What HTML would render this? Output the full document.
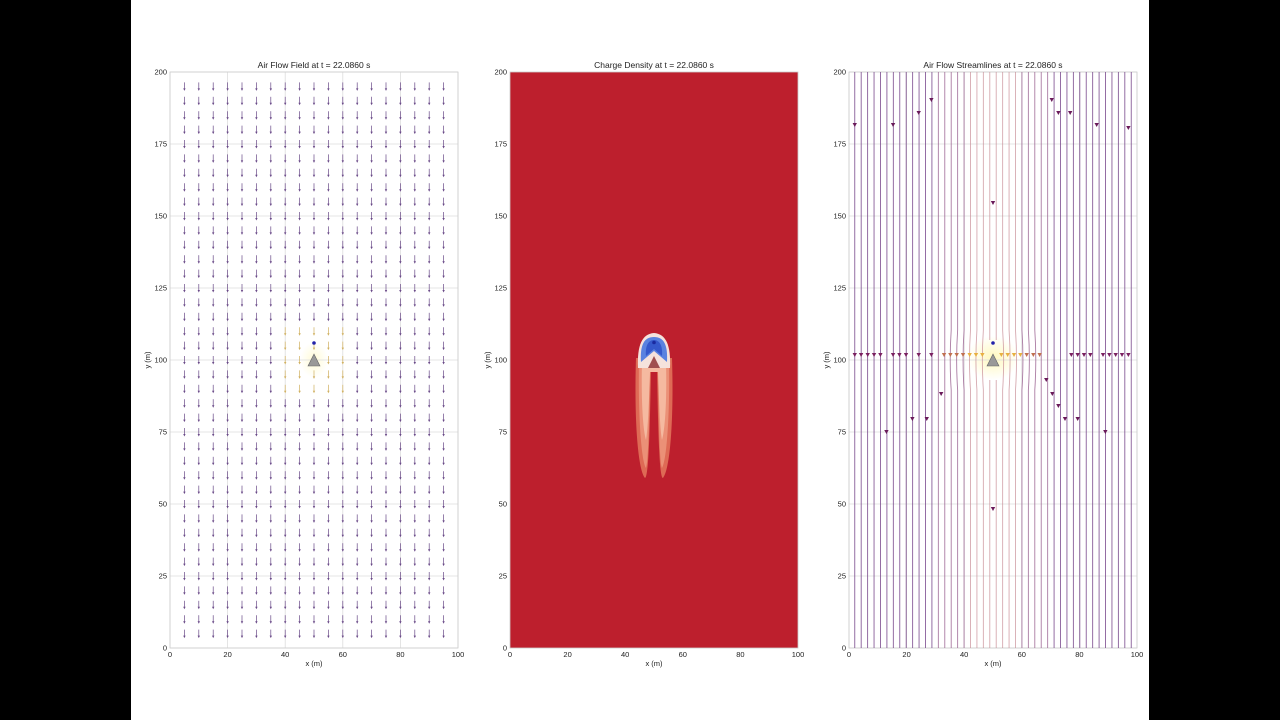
<!DOCTYPE html>
<html><head><meta charset="utf-8">
<style>
html,body{margin:0;padding:0;background:#000;width:1280px;height:720px;overflow:hidden}
svg{display:block}
text{font-family:"Liberation Sans",sans-serif;fill:#222}
</style></head>
<body>
<svg id="s" width="1280" height="720" xmlns="http://www.w3.org/2000/svg">
<rect x="0" y="0" width="1280" height="720" fill="#000"/>
<rect x="131" y="0" width="1018" height="720" fill="#fff"/>
<defs>
<radialGradient id="glow" cx="0.5" cy="0.5" r="0.5">
<stop offset="0" stop-color="#fff27a" stop-opacity="0.9"/>
<stop offset="1" stop-color="#fff27a" stop-opacity="0"/>
</radialGradient>
</defs>
<g id="g"></g>
</svg>
<script>
var g=document.getElementById('g');var h='';
var W=288;
function X(x0,v){return x0+v*2.88}
function Yv(v){return 648-v*2.88}
function axes(x0,title,grid){
  var s='';
  if(grid){
    for(var i=0;i<=5;i++){var x=x0+i*57.6;s+='<line x1="'+x+'" y1="72" x2="'+x+'" y2="648" stroke="#ddd" stroke-width="0.8"/>';}
    for(var j=0;j<=8;j++){var y=648-j*72;s+='<line x1="'+x0+'" y1="'+y+'" x2="'+(x0+W)+'" y2="'+y+'" stroke="#ddd" stroke-width="0.8"/>';}
  }
  s+='<rect x="'+x0+'" y="72" width="288" height="576" fill="none" stroke="#ccc" stroke-width="0.8"/>';
  for(var i=0;i<=5;i++){s+='<text x="'+(x0+i*57.6)+'" y="657" font-size="7.5" text-anchor="middle">'+(i*20)+'</text>';}
  for(var j=0;j<=8;j++){s+='<text x="'+(x0-3)+'" y="'+(650.5-j*72)+'" font-size="7.5" text-anchor="end">'+(j*25)+'</text>';}
  s+='<text x="'+(x0+144)+'" y="666" font-size="7.5" text-anchor="middle">x (m)</text>';
  s+='<text x="'+(x0-20)+'" y="360" font-size="7.5" text-anchor="middle" transform="rotate(-90 '+(x0-20)+' 360)">y (m)</text>';
  s+='<text x="'+(x0+144)+'" y="68" font-size="8.5" text-anchor="middle">'+title+'</text>';
  return s;
}
function emitter(x0){
  var cx=X(x0,50);
  return '<polygon points="'+(cx-6)+',366 '+(cx+6)+',366 '+cx+',354" fill="#999" stroke="#666" stroke-width="0.6"/><circle cx="'+cx+'" cy="343" r="1.8" fill="#2222aa"/>';
}
// Panel 1
var x0=170;
h+='<ellipse cx="'+X(x0,50)+'" cy="360" rx="14" ry="18" fill="url(#glow)" opacity="0.35"/>';
h+=axes(x0,'Air Flow Field at t = 22.0860 s',true);
for(var i=1;i<=19;i++){for(var j=1;j<=39;j++){
  var x=X(x0,i*5),y=Yv(j*5);
  var col=(Math.abs(i*5-50)<=10&&Math.abs(j*5-100)<=10)?'#d0b060':'#6a4a88';
  h+='<line x1="'+x+'" y1="'+(y-4)+'" x2="'+x+'" y2="'+(y+3)+'" stroke="'+col+'" stroke-width="0.7"/>';
  h+='<polygon points="'+(x-1.2)+','+(y+2)+' '+(x+1.2)+','+(y+2)+' '+x+','+(y+4.5)+'" fill="'+col+'"/>';
}}
h+=emitter(x0);
// Panel 2
x0=510;
h+='<rect x="510" y="72" width="288" height="576" fill="#bd1f2d"/>';
var c=X(x0,50);
h+='<path d="M'+(c-18)+',358 C'+(c-20)+',420 '+(c-16)+',470 '+(c-9)+',478 C'+(c-5)+',478 '+(c-4)+',420 '+(c-3)+',370 L'+(c+3)+',370 C'+(c+4)+',420 '+(c+5)+',478 '+(c+9)+',478 C'+(c+16)+',470 '+(c+20)+',420 '+(c+18)+',358 Z" fill="#de6a55"/>';
h+='<path d="M'+(c-15)+',360 C'+(c-16)+',410 '+(c-13)+',460 '+(c-8)+',468 C'+(c-5)+',460 '+(c-5)+',410 '+(c-4)+',372 L'+(c+4)+',372 C'+(c+5)+',410 '+(c+5)+',460 '+(c+8)+',468 C'+(c+13)+',460 '+(c+16)+',410 '+(c+15)+',360 Z" fill="#eb9077"/>';
h+='<path d="M'+(c-12)+',362 C'+(c-13)+',400 '+(c-11)+',430 '+(c-8)+',440 C'+(c-6)+',430 '+(c-5)+',400 '+(c-4)+',372 L'+(c+4)+',372 C'+(c+5)+',400 '+(c+6)+',430 '+(c+8)+',440 C'+(c+11)+',430 '+(c+13)+',400 '+(c+12)+',362 Z" fill="#f5b9a0"/>';
h+='<path d="M'+(c-16)+',368 C'+(c-17)+',345 '+(c-12)+',334 '+c+',333 C'+(c+12)+',334 '+(c+17)+',345 '+(c+16)+',368 Z" fill="#f5e2dc"/>';
h+='<path d="M'+(c-13)+',362 C'+(c-14)+',345 '+(c-10)+',337 '+c+',337 C'+(c+10)+',337 '+(c+14)+',345 '+(c+13)+',362 L'+c+',351 Z" fill="#5a82e0"/>';
h+='<path d="M'+(c-8)+',356 C'+(c-9)+',345 '+(c-5)+',340 '+c+',340 C'+(c+5)+',340 '+(c+9)+',345 '+(c+8)+',356 L'+c+',349 Z" fill="#3558cc"/>';
h+='<polygon points="'+(c-6)+',368 '+(c+6)+',368 '+c+',356" fill="#a05050"/>';
h+='<circle cx="'+c+'" cy="342.5" r="1.8" fill="#1a2aa0"/>';
h+=axes(x0,'Charge Density at t = 22.0860 s',false);
// Panel 3
x0=849;
h+='<ellipse cx="'+X(x0,50)+'" cy="358" rx="26" ry="22" fill="url(#glow)" opacity="0.55"/>';
h+=axes(x0,'Air Flow Streamlines at t = 22.0860 s',true);
var n=44;
for(var k=0;k<n;k++){
  var xv=2+k*(96/(n-1));var x=X(x0,xv);
  var d=Math.abs(xv-50);
  var col=d<10?'rgba(200,140,150,0.75)':(d<20?'rgba(150,90,140,0.8)':'rgba(115,65,135,0.85)');
  if(d<3){h+='<line x1="'+x+'" y1="72" x2="'+x+'" y2="340" stroke="'+col+'" stroke-width="0.9"/><line x1="'+x+'" y1="380" x2="'+x+'" y2="648" stroke="'+col+'" stroke-width="0.9"/>';}
  else{
    var bend=d<15?(xv<50?-2:2):0;
    h+='<path d="M'+x+',72 L'+x+',330 Q'+(x+bend)+',360 '+x+',390 L'+x+',648" fill="none" stroke="'+col+'" stroke-width="0.9"/>';
  }
}
function tri(xv,yp,col){var x=X(x0,xv);return '<polygon points="'+(x-2.2)+','+(yp-2)+' '+(x+2.2)+','+(yp-2)+' '+x+','+(yp+2)+'" fill="'+col+'"/>';}
var row=[2,4.2,6.5,8.7,10.9,15.3,17.5,19.8,24.2,28.6,33,35.2,37.4,39.6,41.9,44.1,46.3,52.9,55.1,57.3,59.5,61.7,64,66.2,77.2,79.4,81.6,83.8,88.2,90.4,92.6,94.8,97];
row.forEach(function(v){var d=Math.abs(v-50);h+=tri(v,355,d<10?'#e8b040':(d<18?'#c07050':'#7a2060'));});
[[2,125],[15.3,125],[24.2,113],[28.6,100],[70.4,100],[72.7,113],[76.8,113],[86,125],[97,128],[50,203],[13,432],[22,419],[27,419],[32,394],[68.5,380],[70.6,394],[72.7,406],[75,419],[79.4,419],[89,432],[50,509]].forEach(function(p){h+=tri(p[0],p[1],'#6a1a5a');});
h+=emitter(x0);
g.innerHTML=h;
</script>
</body></html>
